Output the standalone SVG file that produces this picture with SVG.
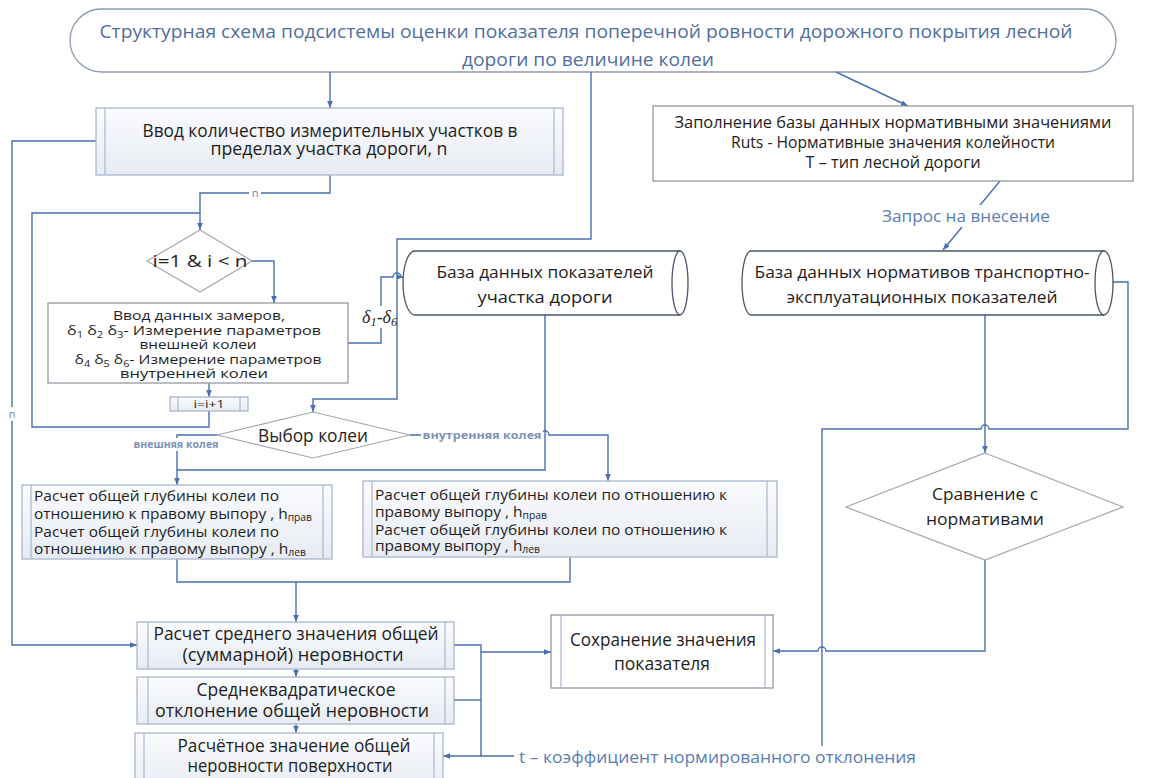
<svg xmlns="http://www.w3.org/2000/svg" width="1162" height="778" viewBox="0 0 1162 778">
  <defs>
    <linearGradient id="subFill" x1="0" y1="0" x2="0" y2="1">
      <stop offset="0" stop-color="#fafbfd"/>
      <stop offset="1" stop-color="#e7ebf2"/>
    </linearGradient>
    <marker id="arr" viewBox="0 0 10 10" refX="10" refY="5" markerWidth="7" markerHeight="7" markerUnits="userSpaceOnUse" orient="auto">
      <path d="M0,1 L10,5 L0,9 Z" fill="#4a6fae"/>
    </marker>
    <style>
      text { font-family: "Open Sans", "Noto Sans", "DejaVu Sans", sans-serif; fill: #1e1e1e; }
      .title { fill: #4f6f9f; font-size: 19px; }
      .t17 { font-size: 17.5px; }
      .t16 { font-size: 16.5px; }
      .t15 { font-size: 15px; }
      .t13 { font-size: 13px; }
      .mid { text-anchor: middle; }
      .lbl { fill: #5b7cb4; font-size: 16px; }
      .small { fill: #7d92b6; font-size: 10.5px; font-weight: bold; }
      .tiny { fill: #6f86ad; font-size: 11px; }
      .greek { font-family: "Liberation Serif", "DejaVu Serif", serif; font-style: italic; font-size: 18px; fill: #2a2a2a; }
      .term { fill: #ffffff; stroke: #8e9ab0; stroke-width: 1.3; }
      .proc { fill: #ffffff; stroke: #8a8f99; stroke-width: 1.2; }
      .sub { fill: url(#subFill); stroke: #a9b7d0; stroke-width: 1.3; }
      .bar { fill: none; stroke: #a9b7d0; stroke-width: 1.2; }
      .dec { fill: #ffffff; stroke: #a3a7b0; stroke-width: 1.2; }
      .db { fill: #ffffff; stroke: #4a5568; stroke-width: 1.3; }
      .conn path { fill: none; stroke: #4a6fae; stroke-width: 1.4; }
      .arrow { marker-end: url(#arr); }
      .bg { fill: #ffffff; }
    </style>
  </defs>

  <!-- title terminator -->
  <g id="title">
    <rect class="term" x="70" y="9" width="1046" height="63" rx="31.5"/>
    <text class="title mid" x="586" y="38" textLength="973" lengthAdjust="spacingAndGlyphs">Структурная схема подсистемы оценки показателя поперечной ровности дорожного покрытия лесной</text>
    <text class="title mid" x="588" y="66" textLength="252" lengthAdjust="spacingAndGlyphs">дороги по величине колеи</text>
  </g>

  <!-- connectors -->
  <g id="connectors" class="conn">
    <path class="arrow" d="M330,72 V108"/>
    <path class="arrow" d="M836,72 L908,106"/>
    <path class="arrow" d="M1000,181 L943,250"/>
    <path class="arrow" d="M591,72 V239 H397 V399 H313 V412"/>
    <path class="arrow" d="M96,141 H12 V645 H137"/>
    <path class="arrow" d="M330,175 V193 H200 V230"/>
    <path d="M209,411 V427 H32 V213 H200"/>
    <path class="arrow" d="M252,261 H274 V303"/>
    <path class="arrow" d="M209,383 V397"/>
    <path class="arrow" d="M348,343 H381 V277 H393 A4,4 0 0 1 401,277 H403.5"/>
    <path class="arrow" d="M217,435 H177 V485"/>
    <path class="arrow" d="M410,435 H541 A4,4 0 0 1 549,435 H608 V481"/>
    <path d="M545,315 V470 H177"/>
    <path d="M177,559 V582 H570 V557"/>
    <path class="arrow" d="M296,582 V622"/>
    <path class="arrow" d="M296,669 V677"/>
    <path class="arrow" d="M296,724 V733"/>
    <path class="arrow" d="M454,645 H481 V652 H551"/>
    <path class="arrow" d="M481,652 V756 H443"/>
    <path d="M454,700 H481"/>
    <path class="arrow" d="M985,315 V453"/>
    <path class="arrow" d="M985,560 V651 H826 A4,4 0 0 0 818,651 H773"/>
    <path d="M1113,282 H1128 V429 H989 A4,4 0 0 0 981,429 H822 V756 H481"/>
  </g>

  <!-- connector labels -->
  <g id="labels">
    <rect class="bg" x="249" y="186" width="12" height="14"/>
    <text class="tiny mid" x="255" y="197">n</text>
    <rect class="bg" x="6" y="407" width="12" height="14"/>
    <text class="tiny mid" x="12" y="418">n</text>
    <rect class="bg" x="362" y="306" width="32" height="22"/>
    <text class="greek" x="362" y="323">δ<tspan font-size="12.5" dy="3">1</tspan><tspan dy="-3">-δ</tspan><tspan font-size="12.5" dy="3">6</tspan></text>
    <rect class="bg" x="131" y="438" width="90" height="13"/>
    <text class="small mid" x="176" y="448" textLength="85" lengthAdjust="spacingAndGlyphs">внешняя колея</text>
    <rect class="bg" x="421" y="428" width="122" height="13"/>
    <text class="small mid" x="482" y="439" textLength="119" lengthAdjust="spacingAndGlyphs">внутренняя колея</text>
    <rect class="bg" x="880" y="205" width="172" height="22"/>
    <text class="lbl mid" x="966" y="222" textLength="168" lengthAdjust="spacingAndGlyphs">Запрос на внесение</text>
    <rect class="bg" x="514" y="746" width="406" height="22"/>
    <text class="lbl" x="519" y="763" font-size="17" textLength="397" lengthAdjust="spacingAndGlyphs">t – коэффициент нормированного отклонения</text>
  </g>

  <!-- input of measuring sections -->
  <g id="input-sections">
    <rect class="sub" x="96" y="108" width="467" height="67"/>
    <path class="bar" d="M105,108 V175 M554,108 V175"/>
    <text class="t17 mid" x="330" y="137" textLength="375" lengthAdjust="spacingAndGlyphs">Ввод количество измерительных участков в</text>
    <text class="t17 mid" x="329" y="155" textLength="237" lengthAdjust="spacingAndGlyphs">пределах участка дороги, n</text>
  </g>

  <!-- filling the normative database -->
  <g id="fill-norms">
    <rect class="proc" x="653" y="106" width="480" height="75"/>
    <text class="t16 mid" x="893" y="128" textLength="437" lengthAdjust="spacingAndGlyphs">Заполнение базы данных нормативными значениями</text>
    <text class="t16 mid" x="893" y="148" textLength="324" lengthAdjust="spacingAndGlyphs">Ruts - Нормативные значения колейности</text>
    <text class="t16 mid" x="893" y="168" textLength="175" lengthAdjust="spacingAndGlyphs">Т – тип лесной дороги</text>
  </g>

  <!-- loop condition -->
  <g id="loop-check">
    <path class="dec" d="M200,230 L252,261 L200,292 L147,261 Z"/>
    <text class="mid" x="200" y="267" font-size="17" textLength="95" lengthAdjust="spacingAndGlyphs">i=1 &amp; i &lt; n</text>
  </g>

  <!-- measurement input -->
  <g id="measure-input">
    <rect class="proc" x="48" y="303" width="300" height="80"/>
    <text class="t13 mid" x="199" y="320" textLength="172" lengthAdjust="spacingAndGlyphs">Ввод данных замеров,</text>
    <text class="t13 mid" x="194" y="335" textLength="254" lengthAdjust="spacingAndGlyphs">δ<tspan font-size="9" dy="2.5">1</tspan><tspan dy="-2.5"> δ</tspan><tspan font-size="9" dy="2.5">2</tspan><tspan dy="-2.5"> δ</tspan><tspan font-size="9" dy="2.5">3</tspan><tspan dy="-2.5">- Измерение параметров</tspan></text>
    <text class="t13 mid" x="198" y="349" textLength="117" lengthAdjust="spacingAndGlyphs">внешней колеи</text>
    <text class="t13 mid" x="198" y="364" textLength="247" lengthAdjust="spacingAndGlyphs">δ<tspan font-size="9" dy="2.5">4</tspan><tspan dy="-2.5"> δ</tspan><tspan font-size="9" dy="2.5">5</tspan><tspan dy="-2.5"> δ</tspan><tspan font-size="9" dy="2.5">6</tspan><tspan dy="-2.5">- Измерение параметров</tspan></text>
    <text class="t13 mid" x="194" y="378" textLength="148" lengthAdjust="spacingAndGlyphs">внутренней колеи</text>
  </g>

  <!-- counter increment -->
  <g id="increment">
    <rect class="sub" x="170" y="397" width="78" height="14"/>
    <path class="bar" d="M178,397 V411 M240,397 V411"/>
    <text class="mid" x="209" y="408" font-size="11.5" textLength="31" lengthAdjust="spacingAndGlyphs">i=i+1</text>
  </g>

  <!-- road section database -->
  <g id="db-section">
    <path class="db" d="M415,251 H680 A8,32 0 0 1 680,315 H415 A12,32 0 0 1 415,251 Z"/>
    <path class="db" fill="none" d="M680,251 A8,32 0 0 0 680,315"/>
    <text class="t16 mid" x="545" y="278" textLength="217" lengthAdjust="spacingAndGlyphs">База данных показателей</text>
    <text class="t16 mid" x="545" y="303" textLength="135" lengthAdjust="spacingAndGlyphs">участка дороги</text>
  </g>

  <!-- normative database -->
  <g id="db-norms">
    <path class="db" d="M751,251 H1104 A9,32 0 0 1 1104,315 H751 A9,32 0 0 1 751,251 Z"/>
    <path class="db" fill="none" d="M1104,251 A9,32 0 0 0 1104,315"/>
    <text class="t16 mid" x="922" y="278" textLength="335" lengthAdjust="spacingAndGlyphs">База данных нормативов транспортно-</text>
    <text class="t16 mid" x="922" y="303" textLength="271" lengthAdjust="spacingAndGlyphs">эксплуатационных показателей</text>
  </g>

  <!-- rut choice -->
  <g id="rut-choice">
    <path class="dec" d="M313,412 L410,435 L313,458 L217,435 Z"/>
    <text class="mid" x="313" y="442" font-size="19" textLength="110" lengthAdjust="spacingAndGlyphs">Выбор колеи</text>
  </g>

  <!-- outer rut depth -->
  <g id="depth-outer">
    <rect class="sub" x="22" y="485" width="310" height="74"/>
    <path class="bar" d="M31,485 V559 M323,485 V559"/>
    <text class="t15" x="34" y="501" textLength="245" lengthAdjust="spacingAndGlyphs">Расчет общей глубины колеи по</text>
    <text class="t15" x="34" y="519" textLength="278" lengthAdjust="spacingAndGlyphs">отношению к правому выпору , h<tspan font-size="10" dy="2">прав</tspan></text>
    <text class="t15" x="34" y="537" textLength="245" lengthAdjust="spacingAndGlyphs">Расчет общей глубины колеи по</text>
    <text class="t15" x="34" y="554" textLength="272" lengthAdjust="spacingAndGlyphs">отношению к правому выпору , h<tspan font-size="10" dy="2">лев</tspan></text>
  </g>

  <!-- inner rut depth -->
  <g id="depth-inner">
    <rect class="sub" x="363" y="481" width="414" height="76"/>
    <path class="bar" d="M372,481 V557 M767,481 V557"/>
    <text class="t15" x="375" y="500" textLength="352" lengthAdjust="spacingAndGlyphs">Расчет общей глубины колеи по отношению к</text>
    <text class="t15" x="375" y="517" textLength="172" lengthAdjust="spacingAndGlyphs">правому выпору , h<tspan font-size="10" dy="2">прав</tspan></text>
    <text class="t15" x="375" y="535" textLength="352" lengthAdjust="spacingAndGlyphs">Расчет общей глубины колеи по отношению к</text>
    <text class="t15" x="375" y="551" textLength="165" lengthAdjust="spacingAndGlyphs">правому выпору , h<tspan font-size="10" dy="2">лев</tspan></text>
  </g>

  <!-- comparison with standards -->
  <g id="compare">
    <path class="dec" d="M985,453 L1123,507 L985,560 L846,507 Z"/>
    <text class="t16 mid" x="985" y="500" textLength="106" lengthAdjust="spacingAndGlyphs">Сравнение с</text>
    <text class="t16 mid" x="985" y="525" textLength="118" lengthAdjust="spacingAndGlyphs">нормативами</text>
  </g>

  <!-- mean unevenness -->
  <g id="mean">
    <rect class="sub" x="137" y="622" width="317" height="47"/>
    <path class="bar" d="M148,622 V669 M445,622 V669"/>
    <text class="t17 mid" x="296" y="640" textLength="285" lengthAdjust="spacingAndGlyphs">Расчет среднего значения общей</text>
    <text class="t17 mid" x="293" y="661" textLength="221" lengthAdjust="spacingAndGlyphs">(суммарной) неровности</text>
  </g>

  <!-- standard deviation -->
  <g id="deviation">
    <rect class="sub" x="137" y="677" width="317" height="47"/>
    <path class="bar" d="M148,677 V724 M445,677 V724"/>
    <text class="t17 mid" x="296" y="696" textLength="199" lengthAdjust="spacingAndGlyphs">Среднеквадратическое</text>
    <text class="t17 mid" x="292" y="717" textLength="274" lengthAdjust="spacingAndGlyphs">отклонение общей неровности</text>
  </g>

  <!-- design unevenness -->
  <g id="design-value">
    <rect class="sub" x="135" y="733" width="308" height="60"/>
    <path class="bar" d="M144,733 V793 M434,733 V793"/>
    <text class="t17 mid" x="294" y="752" textLength="233" lengthAdjust="spacingAndGlyphs">Расчётное значение общей</text>
    <text class="t17 mid" x="290" y="772" textLength="205" lengthAdjust="spacingAndGlyphs">неровности поверхности</text>
  </g>

  <!-- saving the value -->
  <g id="save">
    <rect class="proc" x="551" y="615" width="222" height="73" stroke="#8e9bb5"/>
    <path class="bar" d="M561,615 V688 M765,615 V688" stroke="#8e9bb5"/>
    <text class="t17 mid" x="663" y="646" textLength="186" lengthAdjust="spacingAndGlyphs">Сохранение значения</text>
    <text class="t17 mid" x="662" y="670" textLength="96" lengthAdjust="spacingAndGlyphs">показателя</text>
  </g>
</svg>
